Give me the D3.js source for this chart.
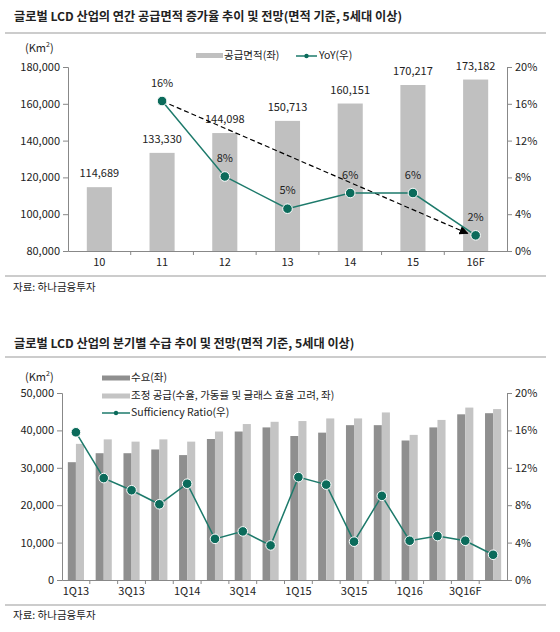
<!DOCTYPE html>
<html><head><meta charset="utf-8">
<script src="https://cdn.jsdelivr.net/npm/d3@7/dist/d3.min.js"></script>
<style>
body{margin:0;background:#fff;}
svg text{font-family:"Noto Sans CJK KR","Noto Sans",sans-serif;fill:#222;}
</style></head>
<body><svg id="c" width="560" height="632"></svg>
<script>
// ---- Chart 1 data ----
const years = ["10","11","12","13","14","15","16F"];
const supplyArea = [114689,133330,144098,150713,160151,170217,173182];
const yoy = [null,16.3,8.1,4.6,6.3,6.3,1.7];
const yoyLabels = [null,"16%","8%","5%","6%","6%","2%"];
const leftTicks1 = [80000,100000,120000,140000,160000,180000];
const rightTicks = [0,4,8,12,16,20];

// ---- Chart 2 data ----
const quarters = ["1Q13","2Q13","3Q13","4Q13","1Q14","2Q14","3Q14","4Q14","1Q15","2Q15","3Q15","4Q15","1Q16","2Q16","3Q16F","4Q16F"];
const quarterLabels = ["1Q13","","3Q13","","1Q14","","3Q14","","1Q15","","3Q15","","1Q16","","3Q16F",""];
const demand = [31500,33900,33900,34900,33400,37700,39700,40800,38500,39400,41400,41400,37300,40800,44300,44600];
const adjSupply = [36400,37600,37000,37600,37000,39700,41700,42300,42500,43200,43200,44800,38800,42800,46100,45700];
const sufficiency = [15.8,10.9,9.6,8.1,10.3,4.4,5.2,3.7,11.0,10.2,4.1,9.0,4.2,4.7,4.2,2.7];
const leftTicks2 = [0,10000,20000,30000,40000,50000];

const svg = d3.select("#c");
svg.append("rect").attr("width",560).attr("height",632).attr("fill","#fff");
const fmt = d3.format(",");
const TEAL = "#1d7a6b", DOT = "#0b6b5b";

function titleBlock(y, text, lineY){
  svg.append("text").attr("x",14).attr("y",y).attr("font-size",12.2).attr("font-weight","bold")
    .attr("dominant-baseline","middle").text(text);
  svg.append("line").attr("x1",5).attr("x2",546).attr("y1",lineY).attr("y2",lineY)
    .attr("stroke","#999").attr("stroke-width",1);
}
function styleAxis(g){
  g.selectAll("path,line").attr("stroke","#888");
  g.selectAll("text").attr("font-size",11).attr("fill","#222")
   .attr("font-family",'"Noto Sans CJK KR","Noto Sans",sans-serif');
}

// ================= Chart 1 =================
titleBlock(18, "글로벌 LCD 산업의 연간 공급면적 증가율 추이 및 전망(면적 기준, 5세대 이상)", 33);
svg.append("text").attr("x",25).attr("y",49).attr("font-size",11).attr("dominant-baseline","middle")
  .html('(Km<tspan dy="-4" font-size="7">2</tspan><tspan dy="4">)</tspan>');

const X1L=68, X1R=507, Y1T=67, Y1B=251;
const x1 = d3.scaleBand().domain(years).range([X1L,X1R]).paddingInner(0.6).paddingOuter(0.3);
const y1 = d3.scaleLinear().domain([80000,180000]).range([Y1B,Y1T]);
const r1 = d3.scaleLinear().domain([0,20]).range([Y1B,Y1T]);
const step1 = x1.step();

svg.append("g").selectAll("rect").data(years).join("rect")
  .attr("x",d=>x1(d)).attr("width",x1.bandwidth())
  .attr("y",(d,i)=>y1(supplyArea[i])).attr("height",(d,i)=>Y1B-y1(supplyArea[i]))
  .attr("fill","#c0c0c0");
svg.append("g").selectAll("text").data(years).join("text")
  .attr("x",d=>x1(d)+x1.bandwidth()/2).attr("y",(d,i)=>y1(supplyArea[i])-13)
  .attr("text-anchor","middle").attr("dominant-baseline","middle").attr("font-size",11)
  .text((d,i)=>fmt(supplyArea[i]));

// axes
const gl1 = svg.append("g").attr("transform",`translate(${X1L},0)`)
  .call(d3.axisLeft(y1).tickValues(leftTicks1).tickFormat(fmt).tickSize(5).tickPadding(3));
styleAxis(gl1);
const gr1 = svg.append("g").attr("transform",`translate(${X1R},0)`)
  .call(d3.axisRight(r1).tickValues(rightTicks).tickFormat(d=>d+"%").tickSize(5).tickPadding(3));
styleAxis(gr1);
const gb1 = svg.append("g").attr("transform",`translate(0,${Y1B})`)
  .call(d3.axisBottom(x1).tickSize(0).tickPadding(7).tickSizeOuter(0));
styleAxis(gb1);
svg.append("g").selectAll("line").data(years.slice(1)).join("line")
  .attr("x1",d=>x1(d)-step1*0.3).attr("x2",d=>x1(d)-step1*0.3)
  .attr("y1",Y1B).attr("y2",Y1B+4).attr("stroke","#888");

// dashed arrow
const defs = svg.append("defs");
defs.append("marker").attr("id","arr").attr("viewBox","0 0 10 10").attr("refX",9).attr("refY",5)
  .attr("markerWidth",9).attr("markerHeight",9).attr("markerUnits","userSpaceOnUse").attr("orient","auto")
  .append("path").attr("d","M0,0L10,5L0,10Z").attr("fill","#000");
const cx1 = d => x1(d)+x1.bandwidth()/2;
svg.append("line")
  .attr("x1",cx1("11")).attr("y1",r1(yoy[1]))
  .attr("x2",cx1("16F")-8).attr("y2",r1(yoy[6])-2)
  .attr("stroke","#000").attr("stroke-width",1.2).attr("stroke-dasharray","5,3")
  .attr("marker-end","url(#arr)");

// yoy line
const yoyPts = years.map((d,i)=>({d,v:yoy[i],l:yoyLabels[i]})).filter(p=>p.v!=null);
svg.append("path").datum(yoyPts)
  .attr("d",d3.line().x(p=>cx1(p.d)).y(p=>r1(p.v)))
  .attr("fill","none").attr("stroke",TEAL).attr("stroke-width",1.5);
svg.append("g").selectAll("circle").data(yoyPts).join("circle")
  .attr("cx",p=>cx1(p.d)).attr("cy",p=>r1(p.v)).attr("r",4.8)
  .attr("fill",DOT).attr("stroke","#fff").attr("stroke-width",1);
svg.append("g").selectAll("text").data(yoyPts).join("text")
  .attr("x",p=>cx1(p.d)).attr("y",p=>r1(p.v)-17.5)
  .attr("text-anchor","middle").attr("dominant-baseline","middle").attr("font-size",11)
  .text(p=>p.l);

// legend 1
svg.append("rect").attr("x",196).attr("y",53).attr("width",27).attr("height",5).attr("fill","#c0c0c0");
svg.append("text").attr("x",224).attr("y",56).attr("font-size",10.5).attr("dominant-baseline","middle").text("공급면적(좌)");
svg.append("line").attr("x1",296).attr("x2",317).attr("y1",56).attr("y2",56).attr("stroke",TEAL).attr("stroke-width",1.5);
svg.append("circle").attr("cx",306.5).attr("cy",56).attr("r",2.2).attr("fill",DOT);
svg.append("text").attr("x",319).attr("y",56).attr("font-size",10.5).attr("dominant-baseline","middle").text("YoY(우)");

svg.append("line").attr("x1",5).attr("x2",546).attr("y1",276).attr("y2",276).attr("stroke","#999");
svg.append("text").attr("x",13).attr("y",288).attr("font-size",10.5).attr("dominant-baseline","middle").text("자료: 하나금융투자");

// ================= Chart 2 =================
titleBlock(345, "글로벌 LCD 산업의 분기별 수급 추이 및 전망(면적 기준, 5세대 이상)", 357);
svg.append("text").attr("x",25).attr("y",378).attr("font-size",11).attr("dominant-baseline","middle")
  .html('(Km<tspan dy="-4" font-size="7">2</tspan><tspan dy="4">)</tspan>');

const X2L=62, X2R=507, Y2T=393, Y2B=580;
const x2 = d3.scaleBand().domain(quarters).range([X2L,X2R]).paddingInner(0.42).paddingOuter(0.21);
const xs = d3.scaleBand().domain(["demand","supply"]).range([0,x2.bandwidth()]).padding(0);
const y2 = d3.scaleLinear().domain([0,50000]).range([Y2B,Y2T]);
const r2 = d3.scaleLinear().domain([0,20]).range([Y2B,Y2T]);
const step2 = x2.step();

const grp = svg.append("g").selectAll("g").data(quarters).join("g")
  .attr("transform",d=>`translate(${x2(d)},0)`);
grp.append("rect").attr("x",xs("demand")).attr("width",xs.bandwidth())
  .attr("y",(d,i)=>y2(demand[i])).attr("height",(d,i)=>Y2B-y2(demand[i])).attr("fill","#8f8f8f");
grp.append("rect").attr("x",xs("supply")).attr("width",xs.bandwidth())
  .attr("y",(d,i)=>y2(adjSupply[i])).attr("height",(d,i)=>Y2B-y2(adjSupply[i])).attr("fill","#c4c4c4");

const gl2 = svg.append("g").attr("transform",`translate(${X2L},0)`)
  .call(d3.axisLeft(y2).tickValues(leftTicks2).tickFormat(fmt).tickSize(5).tickPadding(3));
styleAxis(gl2);
const gr2 = svg.append("g").attr("transform",`translate(${X2R},0)`)
  .call(d3.axisRight(r2).tickValues(rightTicks).tickFormat(d=>d+"%").tickSize(5).tickPadding(3));
styleAxis(gr2);
const gb2 = svg.append("g").attr("transform",`translate(0,${Y2B})`)
  .call(d3.axisBottom(x2).tickSize(0).tickPadding(7).tickSizeOuter(0).tickFormat((d,i)=>quarterLabels[i]));
styleAxis(gb2);
svg.append("g").selectAll("line").data(quarters.slice(1)).join("line")
  .attr("x1",d=>x2(d)-step2*0.21).attr("x2",d=>x2(d)-step2*0.21)
  .attr("y1",Y2B).attr("y2",Y2B+4).attr("stroke","#888");

const cx2 = d => x2(d)+x2.bandwidth()/2;
svg.append("path").datum(quarters)
  .attr("d",d3.line().x(d=>cx2(d)).y((d,i)=>r2(sufficiency[i])))
  .attr("fill","none").attr("stroke",TEAL).attr("stroke-width",1.5);
svg.append("g").selectAll("circle").data(quarters).join("circle")
  .attr("cx",d=>cx2(d)).attr("cy",(d,i)=>r2(sufficiency[i])).attr("r",4.8)
  .attr("fill",DOT).attr("stroke","#fff").attr("stroke-width",1);

// legend 2
svg.append("rect").attr("x",102).attr("y",375.5).attr("width",28).attr("height",5).attr("fill","#8f8f8f");
svg.append("text").attr("x",131).attr("y",378).attr("font-size",10.5).attr("dominant-baseline","middle").text("수요(좌)");
svg.append("rect").attr("x",102).attr("y",393.5).attr("width",28).attr("height",5).attr("fill","#c4c4c4");
svg.append("text").attr("x",131).attr("y",396).attr("font-size",10.5).attr("dominant-baseline","middle").text("조정 공급(수율, 가동률 및 글래스 효율 고려, 좌)");
svg.append("line").attr("x1",102).attr("x2",130).attr("y1",413).attr("y2",413).attr("stroke",TEAL).attr("stroke-width",1.5);
svg.append("circle").attr("cx",116).attr("cy",413).attr("r",2.2).attr("fill",DOT);
svg.append("text").attr("x",131).attr("y",413).attr("font-size",10.5).attr("dominant-baseline","middle").text("Sufficiency Ratio(우)");

svg.append("line").attr("x1",5).attr("x2",546).attr("y1",605).attr("y2",605).attr("stroke","#999");
svg.append("text").attr("x",13).attr("y",616).attr("font-size",10.5).attr("dominant-baseline","middle").text("자료: 하나금융투자");
</script></body></html>
